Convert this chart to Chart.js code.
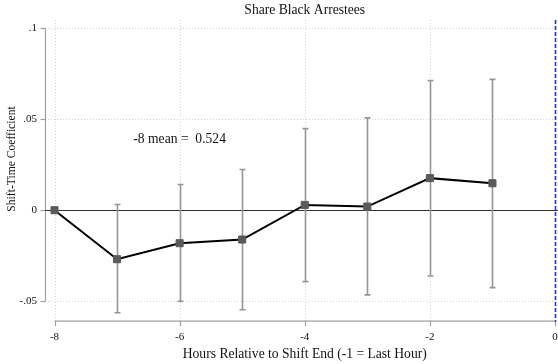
<!DOCTYPE html>
<html>
<head>
<meta charset="utf-8">
<script src="https://cdn.jsdelivr.net/npm/chart.js@4/dist/chart.umd.min.js"></script>
<style>
  html, body { margin: 0; padding: 0; background: #fff; }
  #wrap { width: 558px; height: 364px; position: relative; }
</style>
</head>
<body>
<div id="wrap"><canvas id="c"></canvas></div>
<script>
// Event-study estimates: hours relative to shift end
const hours = [-8, -7, -6, -5, -4, -3, -2, -1];
const coef = [0, -0.0269, -0.0181, -0.0161, 0.0029, 0.0020, 0.0176, 0.0148];
const ciHigh = [null, 0.0031, 0.0141, 0.0223, 0.0448, 0.0507, 0.0712, 0.0718];
const ciLow = [null, -0.0563, -0.0500, -0.0546, -0.0392, -0.0465, -0.0361, -0.0425];

const xTicks = [-8, -6, -4, -2, 0];
const xTickLabels = ['-8', '-6', '-4', '-2', '0'];
const yTicks = [-0.05, 0, 0.05, 0.1];
const yTickLabels = ['-.05', '0', '.05', '.1'];

const chartTitle = 'Share Black Arrestees';
const xTitle = 'Hours Relative to Shift End (-1 = Last Hour)';
const yTitle = 'Shift-Time Coefficient';
const note = { x: -6, y: 0.039, text: '-8 mean =  0.524' };
const refHour = 0;

const SERIF = '"Liberation Serif", "DejaVu Serif", serif';

const decor = {
  id: 'decor',
  beforeDatasetsDraw(chart) {
    const { ctx, chartArea: a, scales: { x, y } } = chart;
    ctx.save();
    // dotted grid
    ctx.strokeStyle = '#d4d4d4';
    ctx.lineWidth = 1;
    ctx.setLineDash([1, 2]);
    xTicks.forEach(v => {
      if (v === refHour) return;
      const px = Math.round(x.getPixelForValue(v)) + 0.5;
      ctx.beginPath(); ctx.moveTo(px, a.top); ctx.lineTo(px, a.bottom); ctx.stroke();
    });
    yTicks.forEach(v => {
      if (v === 0) return;
      const py = Math.round(y.getPixelForValue(v)) + 0.5;
      ctx.beginPath(); ctx.moveTo(a.left, py); ctx.lineTo(a.right, py); ctx.stroke();
    });
    ctx.setLineDash([]);

    // axis lines with outward ticks
    ctx.strokeStyle = '#a0a0a0';
    ctx.lineWidth = 1.2;
    const ax = a.left + 0.5;
    ctx.beginPath();
    ctx.moveTo(ax, y.getPixelForValue(yTicks[yTicks.length - 1]));
    ctx.lineTo(ax, y.getPixelForValue(yTicks[0]));
    ctx.stroke();
    yTicks.forEach(v => {
      const py = Math.round(y.getPixelForValue(v)) + 0.5;
      ctx.beginPath(); ctx.moveTo(ax - 5, py); ctx.lineTo(ax, py); ctx.stroke();
    });
    const ay = a.bottom - 0.5;
    ctx.beginPath();
    ctx.moveTo(x.getPixelForValue(xTicks[0]), ay);
    ctx.lineTo(x.getPixelForValue(xTicks[xTicks.length - 1]), ay);
    ctx.stroke();
    xTicks.forEach(v => {
      const px = Math.round(x.getPixelForValue(v)) + 0.5;
      ctx.beginPath(); ctx.moveTo(px, ay); ctx.lineTo(px, ay + 5); ctx.stroke();
    });

    // zero line
    ctx.strokeStyle = '#333';
    ctx.lineWidth = 1.2;
    const zy = Math.round(y.getPixelForValue(0)) + 0.5;
    ctx.beginPath(); ctx.moveTo(a.left, zy); ctx.lineTo(a.right, zy); ctx.stroke();

    // confidence intervals
    ctx.strokeStyle = '#959595';
    ctx.lineWidth = 1.6;
    hours.forEach((h, i) => {
      if (ciHigh[i] === null) return;
      const px = Math.round(x.getPixelForValue(h)) + 0.5;
      const t = y.getPixelForValue(ciHigh[i]);
      const b = y.getPixelForValue(ciLow[i]);
      ctx.beginPath();
      ctx.moveTo(px, t); ctx.lineTo(px, b);
      ctx.moveTo(px - 3, t); ctx.lineTo(px + 3, t);
      ctx.moveTo(px - 3, b); ctx.lineTo(px + 3, b);
      ctx.stroke();
    });

    // reference line at shift end
    ctx.strokeStyle = '#2a2aee';
    ctx.lineWidth = 1.6;
    ctx.setLineDash([4, 2]);
    const rx = Math.round(x.getPixelForValue(refHour)) + 0.5;
    ctx.beginPath(); ctx.moveTo(rx, a.top); ctx.lineTo(rx, a.bottom); ctx.stroke();
    ctx.setLineDash([]);
    ctx.restore();
  },
  afterDraw(chart) {
    const { ctx, scales: { x, y } } = chart;
    const midX = (x.getPixelForValue(xTicks[0]) + x.getPixelForValue(xTicks[xTicks.length - 1])) / 2;
    ctx.save();
    ctx.fillStyle = '#111';
    ctx.textAlign = 'center';
    ctx.textBaseline = 'middle';
    ctx.font = '13.6px ' + SERIF;
    ctx.fillText(chartTitle, midX, 10);
    ctx.fillText(xTitle, midX, 354);
    ctx.fillText(note.text, x.getPixelForValue(note.x), y.getPixelForValue(note.y));
    ctx.font = '11.6px ' + SERIF;
    ctx.translate(12, 159);
    ctx.rotate(-Math.PI / 2);
    ctx.fillText(yTitle, 0, 0);
    ctx.restore();
  }
};

new Chart(document.getElementById('c'), {
  type: 'line',
  data: {
    datasets: [{
      data: hours.map((h, i) => ({ x: h, y: coef[i] })),
      borderColor: '#000',
      borderWidth: 2,
      pointStyle: 'rect',
      pointRadius: 5,
      pointBackgroundColor: '#5a5a5a',
      pointBorderColor: '#5a5a5a',
      pointBorderWidth: 1,
      tension: 0
    }]
  },
  options: {
    responsive: true,
    maintainAspectRatio: false,
    animation: false,
    layout: { autoPadding: false, padding: { top: 20, left: 0, right: 0, bottom: 0 } },
    plugins: { legend: { display: false }, title: { display: false }, tooltip: { enabled: false } },
    scales: {
      x: {
        type: 'linear',
        min: -8.152,
        max: 0.048,
        grid: { display: false, drawTicks: false },
        border: { display: false },
        afterBuildTicks: s => { s.ticks = xTicks.map(v => ({ value: v })); },
        afterFit: s => { s.height = 42.3; s.paddingLeft = 0; s.paddingRight = 0; },
        ticks: {
          padding: 9,
          color: '#111',
          font: { family: SERIF, size: 11 },
          callback: v => xTickLabels[xTicks.indexOf(v)]
        }
      },
      y: {
        type: 'linear',
        min: -0.0612,
        max: 0.1044,
        grid: { display: false, drawTicks: false },
        border: { display: false },
        afterBuildTicks: s => { s.ticks = yTicks.map(v => ({ value: v })); },
        afterFit: s => { s.width = 45; s.paddingTop = 0; s.paddingBottom = 0; },
        ticks: {
          padding: 8,
          color: '#111',
          font: { family: SERIF, size: 11 },
          callback: v => yTickLabels[yTicks.indexOf(v)]
        }
      }
    }
  },
  plugins: [decor]
});
</script>
</body>
</html>
